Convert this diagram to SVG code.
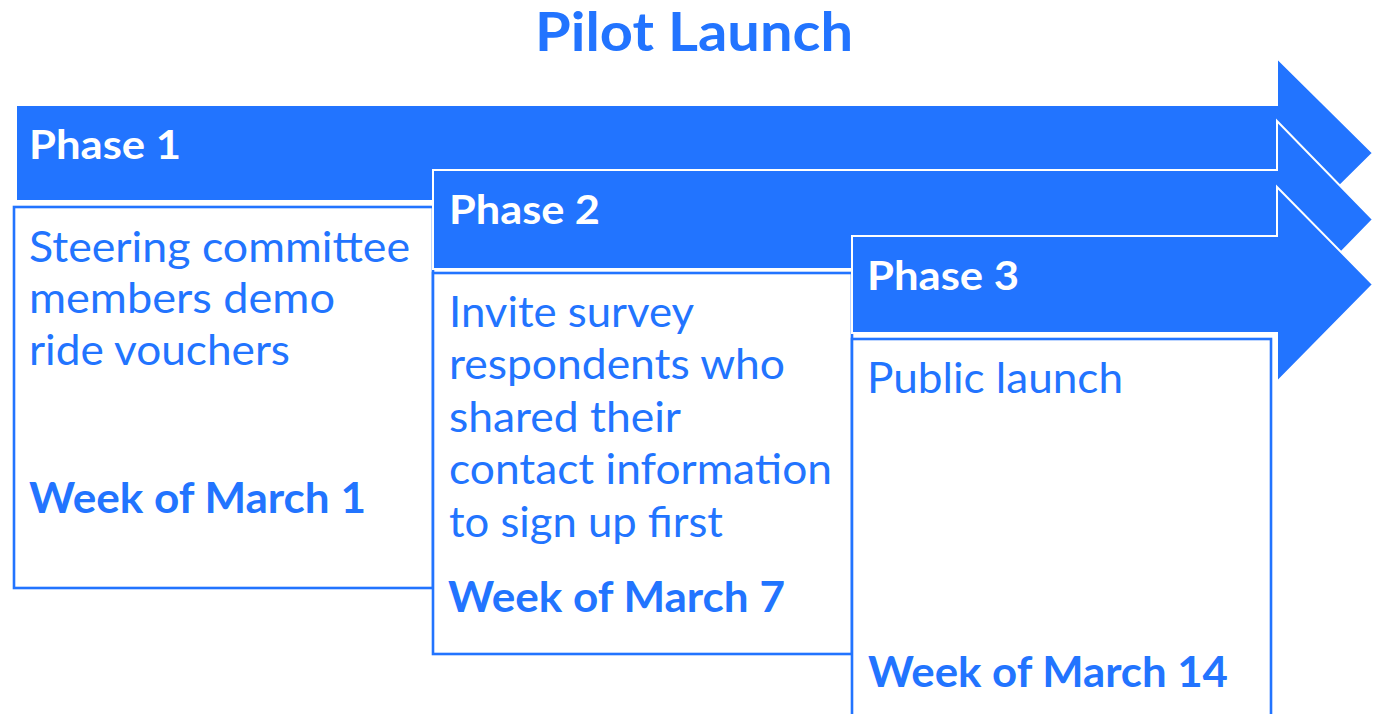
<svg xmlns="http://www.w3.org/2000/svg" width="1383" height="714" viewBox="0 0 1383 714">
  <style>
    .band { fill: #2274ff; stroke: #ffffff; stroke-width: 2; stroke-linejoin: miter; }
    .card { fill: #ffffff; stroke: #2274ff; stroke-width: 2.6; }
    .title { font-family: Lato, "Open Sans", sans-serif; font-weight: 700; font-size: 54px; fill: #2274ff; }
    .phase { font-family: Lato, "Open Sans", sans-serif; font-weight: 700; font-size: 41px; fill: #ffffff; }
    .body { font-family: Lato, "Open Sans", sans-serif; font-weight: 400; font-size: 42px; fill: #2274ff; }
    .week { font-family: Lato, "Open Sans", sans-serif; font-weight: 700; font-size: 42px; fill: #2274ff; }
  </style>

  <rect width="1383" height="714" fill="#ffffff"/>

  <text class="title" x="535" y="51" textLength="318" lengthAdjust="spacingAndGlyphs">Pilot Launch</text>

  <!-- Phase 1 -->
  <g id="phase1">
    <path class="band" d="M16,105 H1277 V58 L1373,153 L1277,248 V201 H16 Z"/>
    <text class="phase" x="29" y="159" textLength="152" lengthAdjust="spacingAndGlyphs">Phase 1</text>
    <rect class="card" x="14" y="207" width="419" height="381"/>
    <text class="body" x="29" y="262" textLength="381" lengthAdjust="spacingAndGlyphs">Steering committee</text>
    <text class="body" x="29" y="313" textLength="306" lengthAdjust="spacingAndGlyphs">members demo</text>
    <text class="body" x="29" y="365" textLength="261" lengthAdjust="spacingAndGlyphs">ride vouchers</text>
    <text class="week" x="29" y="513" textLength="337" lengthAdjust="spacingAndGlyphs">Week of March 1</text>
  </g>

  <!-- Phase 2 -->
  <g id="phase2">
    <path class="band" d="M433,170 H1277 V121 L1373,219.5 L1277,318 V269 H433 Z"/>
    <text class="phase" x="449" y="224" textLength="151" lengthAdjust="spacingAndGlyphs">Phase 2</text>
    <rect class="card" x="433" y="273" width="419" height="381"/>
    <text class="body" x="449" y="327" textLength="245" lengthAdjust="spacingAndGlyphs">Invite survey</text>
    <text class="body" x="449" y="379" textLength="336" lengthAdjust="spacingAndGlyphs">respondents who</text>
    <text class="body" x="449" y="432" textLength="232" lengthAdjust="spacingAndGlyphs">shared their</text>
    <text class="body" x="449" y="484" textLength="383" lengthAdjust="spacingAndGlyphs">contact information</text>
    <text class="body" x="449" y="537" textLength="274" lengthAdjust="spacingAndGlyphs">to sign up first</text>
    <text class="week" x="448" y="612" textLength="337" lengthAdjust="spacingAndGlyphs">Week of March 7</text>
  </g>

  <!-- Phase 3 -->
  <g id="phase3">
    <path class="band" d="M852,236 H1277 V187 L1373,284.5 L1277,382 V333 H852 Z"/>
    <text class="phase" x="867" y="290" textLength="152" lengthAdjust="spacingAndGlyphs">Phase 3</text>
    <rect class="card" x="852" y="339" width="419" height="390"/>
    <text class="body" x="867" y="393" textLength="256" lengthAdjust="spacingAndGlyphs">Public launch</text>
    <text class="week" x="868" y="687" textLength="360" lengthAdjust="spacingAndGlyphs">Week of March 14</text>
  </g>

  <g id="connectors"/>
</svg>
